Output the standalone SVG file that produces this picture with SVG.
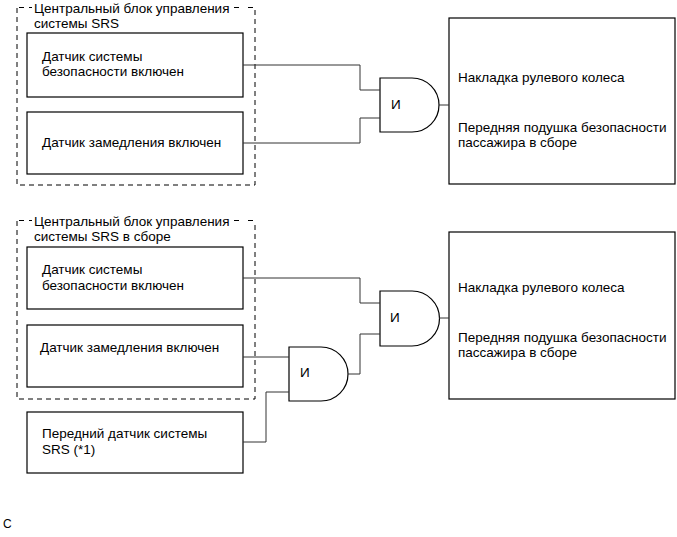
<svg xmlns="http://www.w3.org/2000/svg" width="677" height="537" viewBox="0 0 677 537">
<style>
text{font-family:"Liberation Sans",Arial,sans-serif;font-size:13.5px;fill:#000}
.box{fill:#fff;stroke:#000;stroke-width:1.2}
.dash{fill:none;stroke:#000;stroke-width:1;stroke-dasharray:5,4}
.gate{fill:#fff;stroke:#000;stroke-width:1.2}
.wire{fill:none;stroke:#333;stroke-width:1}
</style>
<rect width="677" height="537" fill="#fff"/>
<g id="group-top">
<path class="dash" d="M17,8 V185 H255 V8"/>
<path class="dash" d="M19,7.5 H24 M29,7.5 H32 M234,7.5 H239 M248,7.5 H255"/>
<text x="34" y="13">Центральный блок управления</text>
<text x="34" y="28">системы SRS</text>
</g>
<g id="box-t1"><rect class="box" x="27" y="33" width="216" height="64"/>
<text x="42" y="61">Датчик системы</text><text x="42" y="76">безопасности включен</text></g>
<g id="box-t2"><rect class="box" x="27" y="112" width="216" height="62"/>
<text x="42" y="147">Датчик замедления включен</text></g>
<g id="gate-t"><path class="gate" d="M380,78 H412 A27,27 0 0 1 412,132 H380 Z"/><text x="391" y="109">И</text></g>
<g id="out-t"><rect class="box" x="449" y="18" width="226" height="166"/>
<text x="458" y="82">Накладка рулевого колеса</text>
<text x="458" y="132">Передняя подушка безопасности</text>
<text x="458" y="147">пассажира в сборе</text></g>

<g id="group-bottom">
<path class="dash" d="M17,221 V399 H255 V221"/>
<path class="dash" d="M19,220.5 H24 M29,220.5 H32 M234,220.5 H239 M248,220.5 H255"/>
<text x="34" y="226">Центральный блок управления</text>
<text x="34" y="241">системы SRS в сборе</text>
</g>
<g id="box-b1"><rect class="box" x="27" y="247" width="216" height="62"/>
<text x="42" y="274">Датчик системы</text><text x="42" y="290">безопасности включен</text></g>
<g id="box-b2"><rect class="box" x="27" y="325" width="216" height="62"/>
<text x="40" y="352">Датчик замедления включен</text></g>
<g id="box-b3"><rect class="box" x="27" y="412" width="216" height="61"/>
<text x="42" y="438">Передний датчик системы</text><text x="42" y="454">SRS (*1)</text></g>
<g id="gate-b1"><path class="gate" d="M380,291 H412 A27.5,27.5 0 0 1 412,346 H380 Z"/><text x="390" y="322">И</text></g>
<g id="gate-b2"><path class="gate" d="M289,347 H321 A27,27 0 0 1 321,401 H289 Z"/><text x="300" y="377">И</text></g>
<g id="out-b"><rect class="box" x="449" y="232" width="226" height="167"/>
<text x="458" y="292">Накладка рулевого колеса</text>
<text x="458" y="342">Передняя подушка безопасности</text>
<text x="458" y="357">пассажира в сборе</text></g>

<g id="connectors">
<path class="wire" d="M243,65 H360 V90 H380"/>
<path class="wire" d="M243,143 H360 V118 H380"/>
<path class="wire" d="M439,105 H449"/>
<path class="wire" d="M243,278 H360 V303 H380"/>
<path class="wire" d="M348,374 H360 V334 H380"/>
<path class="wire" d="M439,318 H449"/>
<path class="wire" d="M243,357 H289"/>
<path class="wire" d="M243,442 H266 V392 H289"/>
</g>
<text x="3" y="528" style="font-size:12px">C</text>
</svg>
